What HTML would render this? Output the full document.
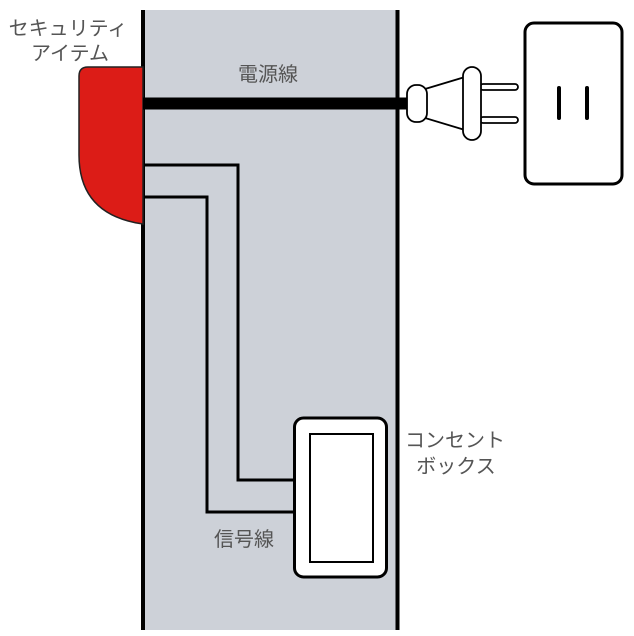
<!DOCTYPE html>
<html><head><meta charset="utf-8"><style>
html,body{margin:0;padding:0;background:#fff;}
svg{display:block;}
text{font-family:"Liberation Sans","Noto Sans CJK JP",sans-serif;font-size:20px;fill:#555;}
</style></head><body>
<svg width="634" height="636" viewBox="0 0 634 636" xmlns="http://www.w3.org/2000/svg">
<rect x="143" y="10" width="254" height="620" fill="#cdd1d8"/>
<line x1="143" y1="10" x2="143" y2="630" stroke="#000" stroke-width="4"/>
<line x1="397.5" y1="10" x2="397.5" y2="630" stroke="#000" stroke-width="4"/>
<path d="M143,67 L88,67 Q79,67 79,76 L79,155 Q79,215 143,224 Z" fill="#dc1c17" stroke="#222" stroke-width="1.5"/>
<line x1="143" y1="103.5" x2="412" y2="103.5" stroke="#000" stroke-width="12"/>
<polyline points="145,165 238,165 238,480 296,480" fill="none" stroke="#000" stroke-width="3"/>
<polyline points="145,197 207,197 207,512 296,512" fill="none" stroke="#000" stroke-width="3"/>
<rect x="294.5" y="418" width="92" height="159" rx="9" fill="#fff" stroke="#000" stroke-width="3"/>
<rect x="310" y="434" width="63" height="128" fill="#fff" stroke="#000" stroke-width="2"/>
<g fill="#fff" stroke="#000" stroke-width="1.8">
<path d="M425,89 L465,77 L465,130 L425,118 Z"/>
<rect x="407" y="85" width="20" height="37" rx="9"/>
<rect x="480" y="84" width="38" height="6" rx="3"/>
<rect x="480" y="117" width="38" height="6" rx="3"/>
<rect x="463" y="67" width="18" height="73" rx="9"/>
</g>
<rect x="525" y="23" width="97" height="161" rx="9" fill="#fff" stroke="#000" stroke-width="3"/>
<line x1="559" y1="88" x2="559" y2="118" stroke="#000" stroke-width="4" stroke-linecap="round"/>
<line x1="587" y1="88" x2="587" y2="118" stroke="#000" stroke-width="4" stroke-linecap="round"/>
<text x="68" y="35" text-anchor="middle">セキュリティ</text>
<text x="70" y="60" text-anchor="middle">アイテム</text>
<text x="268" y="81" text-anchor="middle">電源線</text>
<text x="455" y="447" text-anchor="middle">コンセント</text>
<text x="456" y="473" text-anchor="middle">ボックス</text>
<text x="244" y="546" text-anchor="middle">信号線</text>
</svg>
</body></html>
